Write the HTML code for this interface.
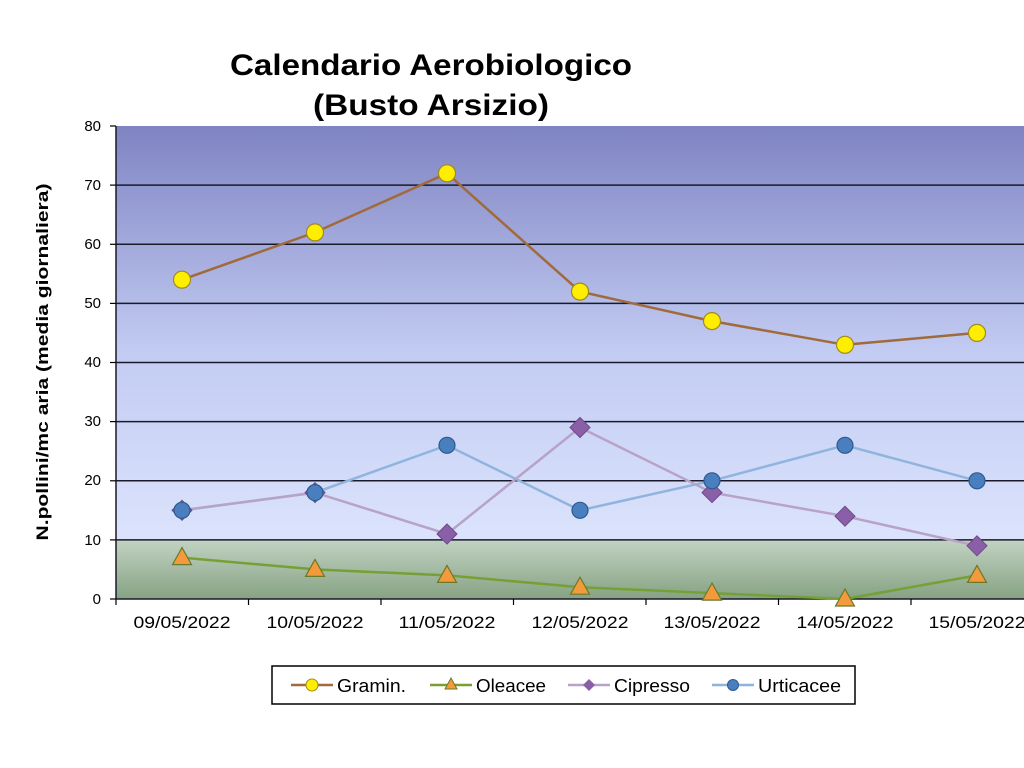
<!DOCTYPE html>
<html><head><meta charset="utf-8"><style>html,body{margin:0;padding:0;background:#fff;}svg{display:block}</style></head>
<body>
<svg width="1024" height="768" viewBox="0 0 1024 768" xmlns="http://www.w3.org/2000/svg" font-family="Liberation Sans, Arial, sans-serif">
<defs>
<linearGradient id="gb" x1="0" y1="0" x2="0" y2="1">
<stop offset="0" stop-color="#7f84c2"/>
<stop offset="0.55" stop-color="#c3ccf3"/>
<stop offset="1" stop-color="#dbe3fc"/>
</linearGradient>
<linearGradient id="gg" x1="0" y1="0" x2="0" y2="1">
<stop offset="0" stop-color="#c2d2c2"/>
<stop offset="1" stop-color="#86a283"/>
</linearGradient>
</defs>
<rect width="1024" height="768" fill="#fff"/>
<text x="230" y="75" font-size="30" font-weight="bold" textLength="402" lengthAdjust="spacingAndGlyphs" fill="#000">Calendario Aerobiologico</text>
<text x="313" y="115" font-size="30" font-weight="bold" textLength="236" lengthAdjust="spacingAndGlyphs" fill="#000">(Busto Arsizio)</text>
<rect x="116" y="126" width="908" height="414" fill="url(#gb)"/>
<rect x="116" y="540" width="908" height="59" fill="url(#gg)"/>
<g stroke="#1a1a2a" stroke-width="1.5">
<line x1="116" y1="185.1" x2="1024" y2="185.1"/>
<line x1="116" y1="244.3" x2="1024" y2="244.3"/>
<line x1="116" y1="303.4" x2="1024" y2="303.4"/>
<line x1="116" y1="362.5" x2="1024" y2="362.5"/>
<line x1="116" y1="421.6" x2="1024" y2="421.6"/>
<line x1="116" y1="480.8" x2="1024" y2="480.8"/>
<line x1="116" y1="539.9" x2="1024" y2="539.9"/>
<line x1="116" y1="599" x2="1024" y2="599"/>
<line x1="116" y1="126" x2="116" y2="599"/>
</g>
<g stroke="#000" stroke-width="1.2">
<line x1="110" y1="126" x2="116" y2="126"/><line x1="110" y1="185.1" x2="116" y2="185.1"/><line x1="110" y1="244.3" x2="116" y2="244.3"/><line x1="110" y1="303.4" x2="116" y2="303.4"/><line x1="110" y1="362.5" x2="116" y2="362.5"/><line x1="110" y1="421.6" x2="116" y2="421.6"/><line x1="110" y1="480.8" x2="116" y2="480.8"/><line x1="110" y1="539.9" x2="116" y2="539.9"/><line x1="110" y1="599" x2="116" y2="599"/>
<line x1="116" y1="599" x2="116" y2="605"/><line x1="248.5" y1="599" x2="248.5" y2="605"/><line x1="381" y1="599" x2="381" y2="605"/><line x1="513.5" y1="599" x2="513.5" y2="605"/><line x1="646" y1="599" x2="646" y2="605"/><line x1="778.5" y1="599" x2="778.5" y2="605"/><line x1="911" y1="599" x2="911" y2="605"/>
</g>
<g font-size="15" text-anchor="end" fill="#000">
<text x="101" y="131">80</text><text x="101" y="190">70</text><text x="101" y="249">60</text><text x="101" y="308">50</text><text x="101" y="367">40</text><text x="101" y="426">30</text><text x="101" y="485">20</text><text x="101" y="545">10</text><text x="101" y="604">0</text>
</g>
<g font-size="17" text-anchor="middle" fill="#000">
<text x="182" y="628" textLength="97" lengthAdjust="spacingAndGlyphs">09/05/2022</text><text x="315" y="628" textLength="97" lengthAdjust="spacingAndGlyphs">10/05/2022</text><text x="447" y="628" textLength="97" lengthAdjust="spacingAndGlyphs">11/05/2022</text><text x="580" y="628" textLength="97" lengthAdjust="spacingAndGlyphs">12/05/2022</text><text x="712" y="628" textLength="97" lengthAdjust="spacingAndGlyphs">13/05/2022</text><text x="845" y="628" textLength="97" lengthAdjust="spacingAndGlyphs">14/05/2022</text><text x="977" y="628" textLength="97" lengthAdjust="spacingAndGlyphs">15/05/2022</text>
</g>
<text transform="translate(48,362) rotate(-90)" font-size="17" font-weight="bold" text-anchor="middle" textLength="357" lengthAdjust="spacingAndGlyphs">N.pollini/mc aria (media giornaliera)</text>
<polyline fill="none" stroke="#8fb4de" stroke-width="2.5" points="182,510.3 315,492.6 447,445.3 580,510.3 712,480.8 845,445.3 977,480.8"/>
<polyline fill="none" stroke="#b8a2c8" stroke-width="2.5" points="182,510.3 315,492.6 447,534 580,427.5 712,492.6 845,516.2 977,545.8"/>
<polyline fill="none" stroke="#76a036" stroke-width="2.5" points="182,557.6 315,569.4 447,575.4 580,587.2 712,593.1 845,599 977,575.4"/>
<polyline fill="none" stroke="#a06a3c" stroke-width="2.5" points="182,279.7 315,232.4 447,173.3 580,291.6 712,321.1 845,344.8 977,332.9"/>
<g fill="#8a5fa8" stroke="#6e4a8a" stroke-width="1">
<path d="M182,500.3l10,10l-10,10l-10,-10z"/><path d="M315,482.6l10,10l-10,10l-10,-10z"/><path d="M447,524l10,10l-10,10l-10,-10z"/><path d="M580,417.5l10,10l-10,10l-10,-10z"/><path d="M712,482.6l10,10l-10,10l-10,-10z"/><path d="M845,506.2l10,10l-10,10l-10,-10z"/><path d="M977,535.8l10,10l-10,10l-10,-10z"/>
</g>
<g fill="#4a7fbf" stroke="#2e5a8e" stroke-width="1.2">
<circle cx="182" cy="510.3" r="8"/><circle cx="315" cy="492.6" r="8"/><circle cx="447" cy="445.3" r="8"/><circle cx="580" cy="510.3" r="8"/><circle cx="712" cy="480.8" r="8"/><circle cx="845" cy="445.3" r="8"/><circle cx="977" cy="480.8" r="8"/>
</g>
<g fill="#f39a3c" stroke="#6a7a2a" stroke-width="1.2">
<path d="M182,547.6l9.5,17h-19z"/><path d="M315,559.4l9.5,17h-19z"/><path d="M447,565.4l9.5,17h-19z"/><path d="M580,577.2l9.5,17h-19z"/><path d="M712,583.1l9.5,17h-19z"/><path d="M845,589l9.5,17h-19z"/><path d="M977,565.4l9.5,17h-19z"/>
</g>
<g fill="#ffee00" stroke="#a08a20" stroke-width="1.2">
<circle cx="182" cy="279.7" r="8.5"/><circle cx="315" cy="232.4" r="8.5"/><circle cx="447" cy="173.3" r="8.5"/><circle cx="580" cy="291.6" r="8.5"/><circle cx="712" cy="321.1" r="8.5"/><circle cx="845" cy="344.8" r="8.5"/><circle cx="977" cy="332.9" r="8.5"/>
</g>
<rect x="272" y="666" width="583" height="38" fill="#fff" stroke="#000" stroke-width="1.5"/>
<g font-size="18" fill="#000">
<line x1="291" y1="685" x2="333" y2="685" stroke="#a06a3c" stroke-width="2.5"/><circle cx="312" cy="685" r="6" fill="#ffee00" stroke="#a08a20"/><text x="337" y="692" textLength="69" lengthAdjust="spacingAndGlyphs">Gramin.</text>
<line x1="430" y1="685" x2="472" y2="685" stroke="#76a036" stroke-width="2.5"/><path d="M451,678l6,11h-12z" fill="#f39a3c" stroke="#6a7a2a"/><text x="476" y="692" textLength="70" lengthAdjust="spacingAndGlyphs">Oleacee</text>
<line x1="568" y1="685" x2="610" y2="685" stroke="#b8a2c8" stroke-width="2.5"/><path d="M589,679l6,6l-6,6l-6,-6z" fill="#8a5fa8"/><text x="614" y="692" textLength="76" lengthAdjust="spacingAndGlyphs">Cipresso</text>
<line x1="712" y1="685" x2="754" y2="685" stroke="#8fb4de" stroke-width="2.5"/><circle cx="733" cy="685" r="5.5" fill="#4a7fbf" stroke="#2e5a8e"/><text x="758" y="692" textLength="83" lengthAdjust="spacingAndGlyphs">Urticacee</text>
</g>
</svg>
</body></html>
